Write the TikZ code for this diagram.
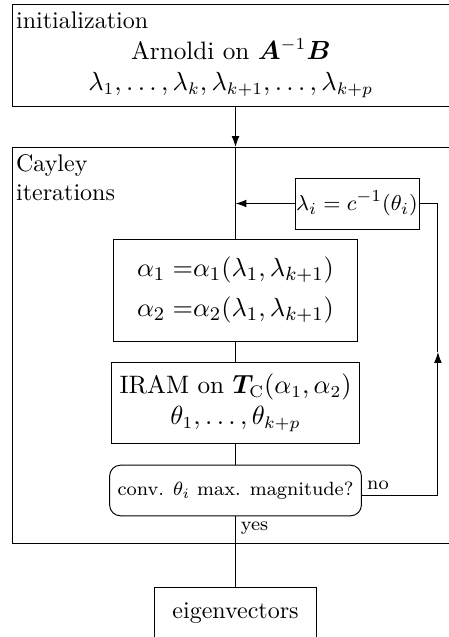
\documentclass[tikz,border=0pt]{standalone}
\usepackage{amsmath,bm}
\usetikzlibrary{arrows.meta, positioning}

\begin{document}
\begin{tikzpicture}[>={Latex[length=4.5pt,width=3.2pt]},
    groupbox/.style={draw, anchor=north west, minimum width=7cm},
    grouplabel/.style={anchor=north west, align=left, inner xsep=1.5pt, inner ysep=3pt},
    stepbox/.style={draw, minimum width=3.57cm, align=center},
    bigtext/.style={font=\fontsize{10.5}{13}\selectfont}]
  \useasboundingbox (0,0) rectangle (6.575,-9.328);
  \clip (0,0) rectangle (6.575,-9.328);
  % initialization
  \node[groupbox, minimum height=1.493cm] (init) at (0.176,-0.059) {};
  \node[grouplabel] (initlabel) at (init.north west) {initialization};
  \node[bigtext, align=center] (arnoldi) at (3.38,-1.0) {Arnoldi on $\bm{A}^{-1}\bm{B}$\\ $\lambda_1,\dots,\lambda_k,\lambda_{k+1},\dots,\lambda_{k+p}$};
  % Cayley iterations
  \node[groupbox, minimum height=5.8cm] (cayley) at (0.176,-2.153) {};
  \node[grouplabel] (cayleylabel) at (cayley.north west) {Cayley\\iterations};
  \node[stepbox, font=\fontsize{11}{13.6}\selectfont, minimum height=1.494cm] (alpha) at (3.449,-4.247)
    {$\begin{aligned}\alpha_1 =&\alpha_1(\lambda_1,\lambda_{k+1})\\ \alpha_2 =&\alpha_2(\lambda_1,\lambda_{k+1})\end{aligned}$};
  \node[stepbox, bigtext, below=0.3cm of alpha, minimum height=1.19cm] (iram)
    {IRAM on $\bm{T}_{\mathrm{C}}(\alpha_1,\alpha_2)$\\ $\theta_1,\dots,\theta_{k+p}$};
  \node[stepbox, rounded corners=4.5pt, below=0.3cm of iram, minimum height=0.741cm,
    font=\footnotesize] (conv) {conv. $\theta_i$ max. magnitude?};
  \node[draw, inner xsep=0.5pt, minimum height=0.747cm, font=\fontsize{9.5}{11.5}\selectfont] (lam)
    at (5.228,-2.980) {$\lambda_i = c^{-1}(\theta_i)$};
  \coordinate (back) at (6.413,-5.154);
  % result
  \node[draw, below=1.04cm of conv, minimum width=2.38cm, minimum height=0.742cm] (eig) {eigenvectors};
  % connectors
  \draw[->] (init.south -| alpha.north) -- (cayley.north -| alpha.north);
  \draw (cayley.north -| alpha.north) -- (alpha.north);
  \draw[->] (lam.west) -- (lam.west -| alpha.north);
  \draw (alpha) -- (iram);
  \draw (iram) -- (conv);
  \draw (conv.south) node[below right, font=\footnotesize, inner sep=2pt] {yes} -- (eig.north);
  \draw[->] ([yshift=-2pt]conv.east) node[above right, font=\footnotesize, inner sep=2pt] {no} -| (back);
  \draw (back) |- (lam.east);
\end{tikzpicture}
\end{document}
